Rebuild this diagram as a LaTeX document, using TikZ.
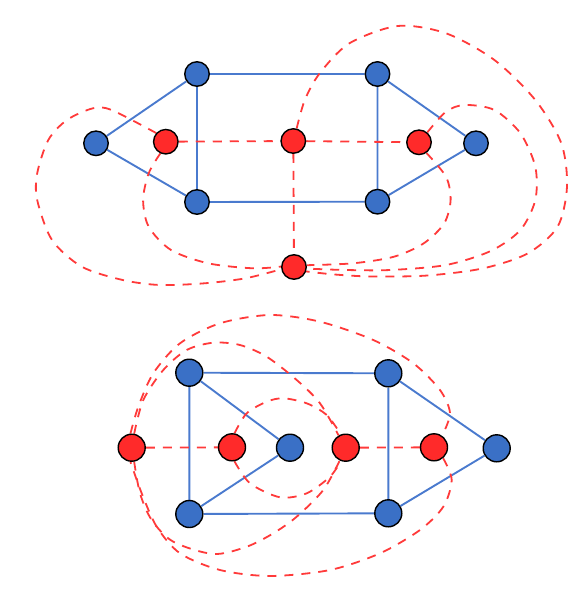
\documentclass[tikz,border=0pt]{standalone}
\usetikzlibrary{backgrounds}
\definecolor{bfill}{RGB}{58,112,198}
\definecolor{bline}{RGB}{74,122,206}
\definecolor{rfill}{RGB}{255,42,42}
\definecolor{rline}{RGB}{255,58,58}
\tikzset{
  bnode/.style={circle,draw=black,line width=1.4pt,fill=bfill,inner sep=0pt,minimum size=#1},
  rnode/.style={circle,draw=black,line width=1.4pt,fill=rfill,inner sep=0pt,minimum size=#1},
  bedge/.style={draw=bline,line width=1.9pt},
  redge/.style={draw=rline,line width=1.8pt,dash pattern=on 9pt off 8pt},
}
\begin{document}
\begin{tikzpicture}[x=1pt,y=-1pt]
\useasboundingbox (0,0) rectangle (582,600);
% ---------- top graph ----------
\node[bnode=24.5pt] (L)  at (96,143.3) {};
\node[bnode=24.5pt] (A1) at (197,74) {};
\node[bnode=24.5pt] (A2) at (377.5,74) {};
\node[bnode=24.5pt] (B1) at (197,202) {};
\node[bnode=24.5pt] (B2) at (377.5,201.7) {};
\node[bnode=24.5pt] (R)  at (476,143.3) {};
\node[rnode=24.5pt] (r1) at (165.8,141.7) {};
\node[rnode=24.5pt] (r2) at (293.3,141) {};
\node[rnode=24.5pt] (r3) at (419,142.3) {};
\node[rnode=24.5pt] (r4) at (294,267) {};
% ---------- bottom graph ----------
\node[bnode=27pt] (P1) at (189.3,372.7) {};
\node[bnode=27pt] (P2) at (388.3,373.3) {};
\node[bnode=27pt] (Q1) at (189.3,514) {};
\node[bnode=27pt] (Q2) at (388.3,513.3) {};
\node[bnode=27pt] (C)  at (290,447.7) {};
\node[bnode=27pt] (E)  at (496.7,448.3) {};
\node[rnode=27pt] (s0) at (131.7,447.7) {};
\node[rnode=27pt] (s1) at (232,447.3) {};
\node[rnode=27pt] (s2) at (345.7,447.7) {};
\node[rnode=27pt] (s3) at (434,447.3) {};
\begin{scope}[on background layer]
  % blue edges top
  \draw[bedge] (A1) -- (A2) (A1) -- (B1) (A2) -- (B2) (B1) -- (B2)
               (L) -- (A1) (L) -- (B1) (R) -- (A2) (R) -- (B2);
  % blue edges bottom
  \draw[bedge] (P1) -- (P2) (P1) -- (Q1) (Q1) -- (Q2) (P2) -- (Q2)
               (P1) -- (C) (Q1) -- (C) (P2) -- (E) (Q2) -- (E);
  % red edges top
  \draw[redge] (r1) -- (r2);
  \draw[redge] (r2) -- (r3);
  \draw[redge] (r2) -- (r4);
  \draw[redge] plot[smooth] coordinates {(r1.138) (111.5,110) (92.9,108.3) (66.9,120) (48.3,140) (37.2,173.3) (37.2,200) (52,240) (81.8,266.7) (122.7,280) (159.9,285) (204.5,283.3) (245.4,278.3) (r4.190)};
  \draw[redge] plot[smooth] coordinates {(r1.245) (148.7,173.3) (143.1,200) (148.7,226.7) (171,250) (208.2,263.3) (252.8,268.3) (r4.178)};
  \draw[redge] plot[smooth] coordinates {(r3.50) (446,111.7) (464.7,105) (494.4,110) (520.4,133.3) (535.3,166.7) (535.3,200) (520.4,230) (490.7,251) (446,265) (390.3,270) (345.7,270) (r4.353)};
  \draw[redge] plot[smooth] coordinates {(r3.-55) (446,176.7) (450.6,200) (444.2,223.3) (423.8,243.3) (394,256.7) (353,263.3) (r4.8)};
  \draw[redge] plot[smooth] coordinates {(r2.75) (304.8,100) (319.7,73.3) (349.4,43.3) (397.8,26) (446,33.3) (494.4,60) (535.3,100) (561.3,143.3) (567,186.7) (557.6,226.7) (527.9,253.3) (483.3,268.3) (427.5,275.5) (371.7,276.5) (334.6,274.5) (r4.340)};
  % red edges bottom
  \draw[redge] (s0) -- (s1);
  \draw[redge] (s2) -- (s3);
  \draw[redge] plot[smooth] coordinates {(s1.80) (246.7,413.3) (266.7,401.7) (283.3,398.3) (306.7,403.3) (326.7,415) (s2.110)};
  \draw[redge] plot[smooth] coordinates {(s1.-80) (250,483.3) (280,497.3) (306.7,493.3) (330,476.7) (s2.-110)};
  \draw[redge] plot[smooth] coordinates {(s0.80) (143.3,400) (163.3,370) (186.7,350) (213.3,342.7) (240,345) (266.7,356.7) (296.7,380) (320,403.3) (s2.120)};
  \draw[redge] plot[smooth] coordinates {(s0.-80) (140,493.3) (151.7,520) (173.3,541.7) (213.3,554) (246.7,546.7) (273.3,533.3) (296.7,516.7) (323.3,490) (s2.-115)};
  \draw[redge] plot[smooth] coordinates {(s0.95) (138.3,406.7) (153.3,373.3) (180,343.3) (220,323.3) (270,315) (320,321.7) (373.3,340) (413.3,363.3) (440,390) (450,413.3) (s3.55)};
  \draw[redge] plot[smooth] coordinates {(s3.-50) (451.7,480) (443.3,506.7) (420,530) (380,553.3) (330,570) (270,576) (220,570) (180,553.3) (156.7,526.7) (141.7,493.3) (s0.-95)};
\end{scope}
\end{tikzpicture}
\end{document}
